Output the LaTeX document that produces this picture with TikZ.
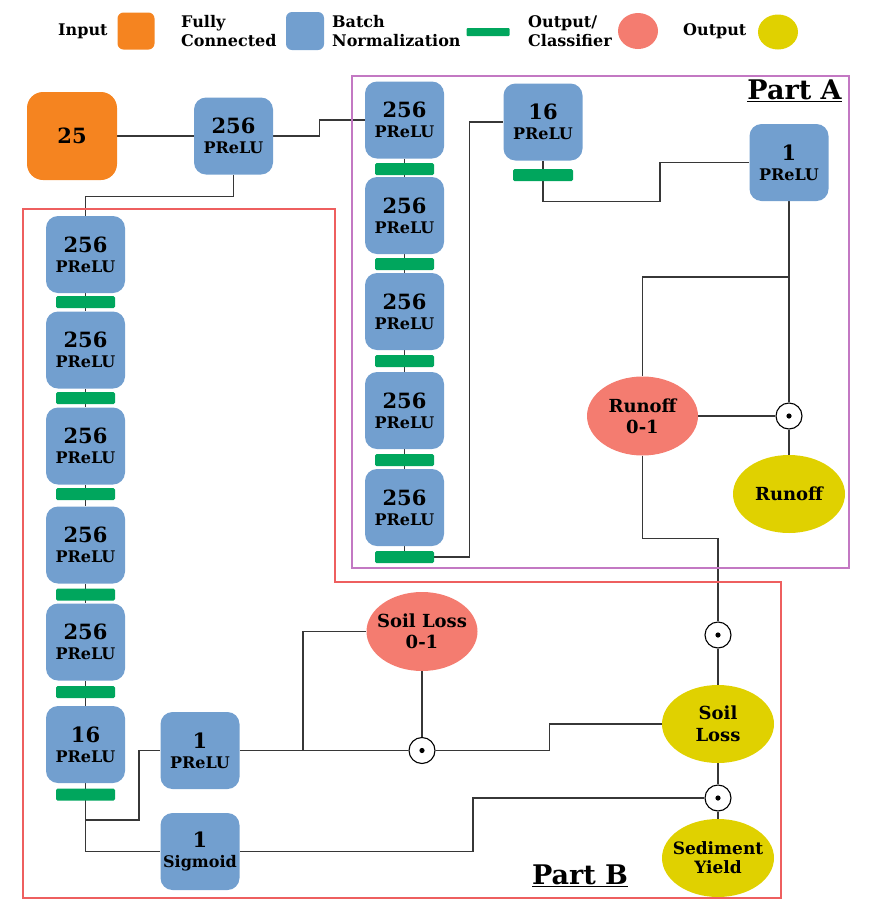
\documentclass[tikz,border=0pt]{standalone}
\usepackage{fontspec}
\setmainfont{DejaVu Serif}
\usetikzlibrary{backgrounds,shapes.geometric}
\definecolor{inorange}{RGB}{245,132,32}
\definecolor{fcblue}{RGB}{114,159,207}
\definecolor{bngreen}{RGB}{0,166,93}
\definecolor{clsalmon}{RGB}{244,124,112}
\definecolor{outyellow}{RGB}{224,209,0}
\definecolor{partAcol}{RGB}{195,120,195}
\definecolor{partBcol}{RGB}{238,95,95}
\definecolor{linecol}{RGB}{55,55,55}
\begin{document}
\begin{tikzpicture}[x=1pt,y=-1pt,
  fcbox/.style={fill=fcblue, rounded corners=12pt, minimum width=79pt, minimum height=77pt, inner sep=0pt, align=center, font=\bfseries\fontsize{16}{20}\selectfont},
  bnbar/.style={fill=bngreen, rounded corners=1.5pt, minimum width=59pt, minimum height=12pt, inner sep=0pt},
  clsell/.style={ellipse, fill=clsalmon, minimum width=111pt, minimum height=79pt, inner xsep=-12pt, inner ysep=0pt, align=center, font=\bfseries\fontsize{18}{21}\selectfont},
  outell/.style={ellipse, fill=outyellow, minimum width=112pt, minimum height=78pt, inner xsep=-12pt, inner ysep=0pt, align=center, font=\bfseries\fontsize{18}{22}\selectfont},
  odotc/.style={circle, draw=black, line width=1.1pt, fill=white, minimum size=26pt, inner sep=0pt,
    path picture={\fill[black] (path picture bounding box.center) circle (2.6pt);}},
  legtext/.style={font=\bfseries\fontsize{16}{19}\selectfont, align=left, inner sep=0pt},
  conn/.style={draw=linecol, line width=1.3pt},
  partlabel/.style={font=\bfseries\fontsize{27}{30}\selectfont, inner sep=0pt}
]
\useasboundingbox (0,0) rectangle (879,903);

% ---------- legend ----------
\node[legtext, anchor=west] (lgin) at (58,31) {Input};
\node[fill=inorange, rounded corners=6pt, minimum width=37pt, minimum height=37pt, inner sep=0pt] (lginbox) at (136,31) {};
\node[legtext, anchor=west] (lgfc) at (181,31) {Fully\\Connected};
\node[fill=fcblue, rounded corners=6pt, minimum width=38pt, minimum height=38pt, inner sep=0pt] (lgfcbox) at (305,31) {};
\node[legtext, anchor=west] (lgbn) at (332,31) {Batch\\Normalization};
\node[fill=bngreen, rounded corners=1pt, minimum width=43pt, minimum height=8pt, inner sep=0pt] (lgbar) at (488,32) {};
\node[legtext, anchor=west] (lgoc) at (528,31) {Output/\\Classifier};
\node[ellipse, fill=clsalmon, minimum width=40pt, minimum height=36pt, inner sep=0pt] (lgocell) at (638,31) {};
\node[legtext, anchor=west] (lgout) at (683,31) {Output};
\node[ellipse, fill=outyellow, minimum width=40pt, minimum height=35pt, inner sep=0pt] (lgoutell) at (778,32) {};

% ---------- part frames ----------
\draw[partAcol, line width=1.2pt] (352,76) rectangle (849,568);
\draw[partBcol, line width=1.2pt] (23,209) -- (335,209) -- (335,582) -- (781,582) -- (781,898) -- (23,898) -- cycle;
\node[partlabel] (partA) at (794.5,91) {\underline{Part A}};
\node[partlabel] (partB) at (580,876) {\underline{Part B}};

% ---------- input and first layer ----------
\node[fill=inorange, rounded corners=16pt, minimum width=90pt, minimum height=88pt, inner sep=0pt, font=\bfseries\fontsize{21}{24}\selectfont] (in25) at (72,136) {25};
\node[fcbox] (top256) at (233.5,136) {{\fontsize{21}{20}\selectfont 256}\\PReLU};

% ---------- Part A column ----------
\node[fcbox] (A1) at (404.5,120) {{\fontsize{21}{20}\selectfont 256}\\PReLU};
\node[bnbar] (bA1) at (404.5,169) {};
\node[fcbox] (A2) at (404.5,215.5) {{\fontsize{21}{20}\selectfont 256}\\PReLU};
\node[bnbar] (bA2) at (404.5,264) {};
\node[fcbox] (A3) at (404.5,311.5) {{\fontsize{21}{20}\selectfont 256}\\PReLU};
\node[bnbar] (bA3) at (404.5,361) {};
\node[fcbox] (A4) at (404.5,410.5) {{\fontsize{21}{20}\selectfont 256}\\PReLU};
\node[bnbar] (bA4) at (404.5,460) {};
\node[fcbox] (A5) at (404.5,507.5) {{\fontsize{21}{20}\selectfont 256}\\PReLU};
\node[bnbar] (bA5) at (404.5,557) {};

\node[fcbox] (A16) at (543,122) {{\fontsize{21}{20}\selectfont 16}\\PReLU};
\node[bnbar, minimum width=60pt] (bA16) at (543,175) {};
\node[fcbox] (A1p) at (789,162.5) {{\fontsize{21}{20}\selectfont 1}\\PReLU};
\node[clsell] (runoff01) at (642.5,416) {Runoff\\0-1};
\node[odotc] (odA) at (789,416) {};
\node[outell] (runoff) at (789,494) {Runoff};

% ---------- Part B column ----------
\node[fcbox] (B1) at (85.5,254.5) {{\fontsize{21}{20}\selectfont 256}\\PReLU};
\node[bnbar] (bB1) at (85.5,302) {};
\node[fcbox] (B2) at (85.5,350) {{\fontsize{21}{20}\selectfont 256}\\PReLU};
\node[bnbar] (bB2) at (85.5,398) {};
\node[fcbox] (B3) at (85.5,446) {{\fontsize{21}{20}\selectfont 256}\\PReLU};
\node[bnbar] (bB3) at (85.5,494) {};
\node[fcbox] (B4) at (85.5,545) {{\fontsize{21}{20}\selectfont 256}\\PReLU};
\node[bnbar] (bB4) at (85.5,594.5) {};
\node[fcbox] (B5) at (85.5,642) {{\fontsize{21}{20}\selectfont 256}\\PReLU};
\node[bnbar] (bB5) at (85.5,692) {};
\node[fcbox] (B16) at (85.5,744.5) {{\fontsize{21}{20}\selectfont 16}\\PReLU};
\node[bnbar] (bB16) at (85.5,794.5) {};

\node[fcbox] (B1p) at (200,750.5) {{\fontsize{21}{20}\selectfont 1}\\PReLU};
\node[fcbox] (Bsig) at (200,851.5) {{\fontsize{21}{20}\selectfont 1}\\Sigmoid};
\node[clsell] (soil01) at (422,631.5) {Soil Loss\\0-1};
\node[odotc] (odB) at (422,750.5) {};
\node[odotc] (od1) at (718,635) {};
\node[outell] (soil) at (718,724) {Soil\\Loss};
\node[odotc] (od2) at (718,798) {};
\node[outell, font=\bfseries\fontsize{17}{19}\selectfont] (sed) at (718,858) {Sediment\\Yield};

\coordinate (jA) at (789,277);
\coordinate (jB) at (303,750.5);

% ---------- connectors ----------
\begin{pgfonlayer}{background}
\draw[conn] (in25.east) -- (top256.west);
\draw[conn] (top256.east) -- ++(46,0) |- (A1.west);
\draw[conn] (top256.south) -- ++(0,22) -| (B1.north);
% Part A chain
\draw[conn] (A1.south) -- (A2.north);
\draw[conn] (A2.south) -- (A3.north);
\draw[conn] (A3.south) -- (A4.north);
\draw[conn] (A4.south) -- (A5.north);
\draw[conn] (A5.south) -- (bA5.north);
\draw[conn] (bA5.east) -- ++(35,0) |- (A16.west);
\draw[conn] (A16.south) -- (bA16.center);
\draw[conn] (bA16.south) -- ++(0,20) -| (660,162.5) -- (A1p.west);
\draw[conn] (A1p.south) -- (odA.north);
\draw[conn] (runoff01.north) |- (jA);
\draw[conn] (runoff01.east) -- (odA.west);
\draw[conn] (odA.south) -- (runoff.north);
\draw[conn] (runoff01.south) -- ++(0,83) -| (od1.north);
\draw[conn] (od1.south) -- (soil.north);
\draw[conn] (soil.south) -- (od2.north);
\draw[conn] (od2.south) -- (sed.north);
% Part B chain
\draw[conn] (B1.south) -- (B2.north);
\draw[conn] (B2.south) -- (B3.north);
\draw[conn] (B3.south) -- (B4.north);
\draw[conn] (B4.south) -- (B5.north);
\draw[conn] (B5.south) -- (B16.north);
\draw[conn] (B16.south) -- (bB16.south);
\draw[conn] (bB16.south) |- (139,820) |- (B1p.west);
\draw[conn] (bB16.south) |- (Bsig.west);
\draw[conn] (B1p.east) -- (odB.west);
\draw[conn] (soil01.west) -| (jB);
\draw[conn] (soil01.south) -- (odB.north);
\draw[conn] (odB.east) -- ++(114,0) |- (soil.west);
\draw[conn] (Bsig.east) -- (473,851.5) |- (od2.west);
\end{pgfonlayer}
\end{tikzpicture}
\end{document}
